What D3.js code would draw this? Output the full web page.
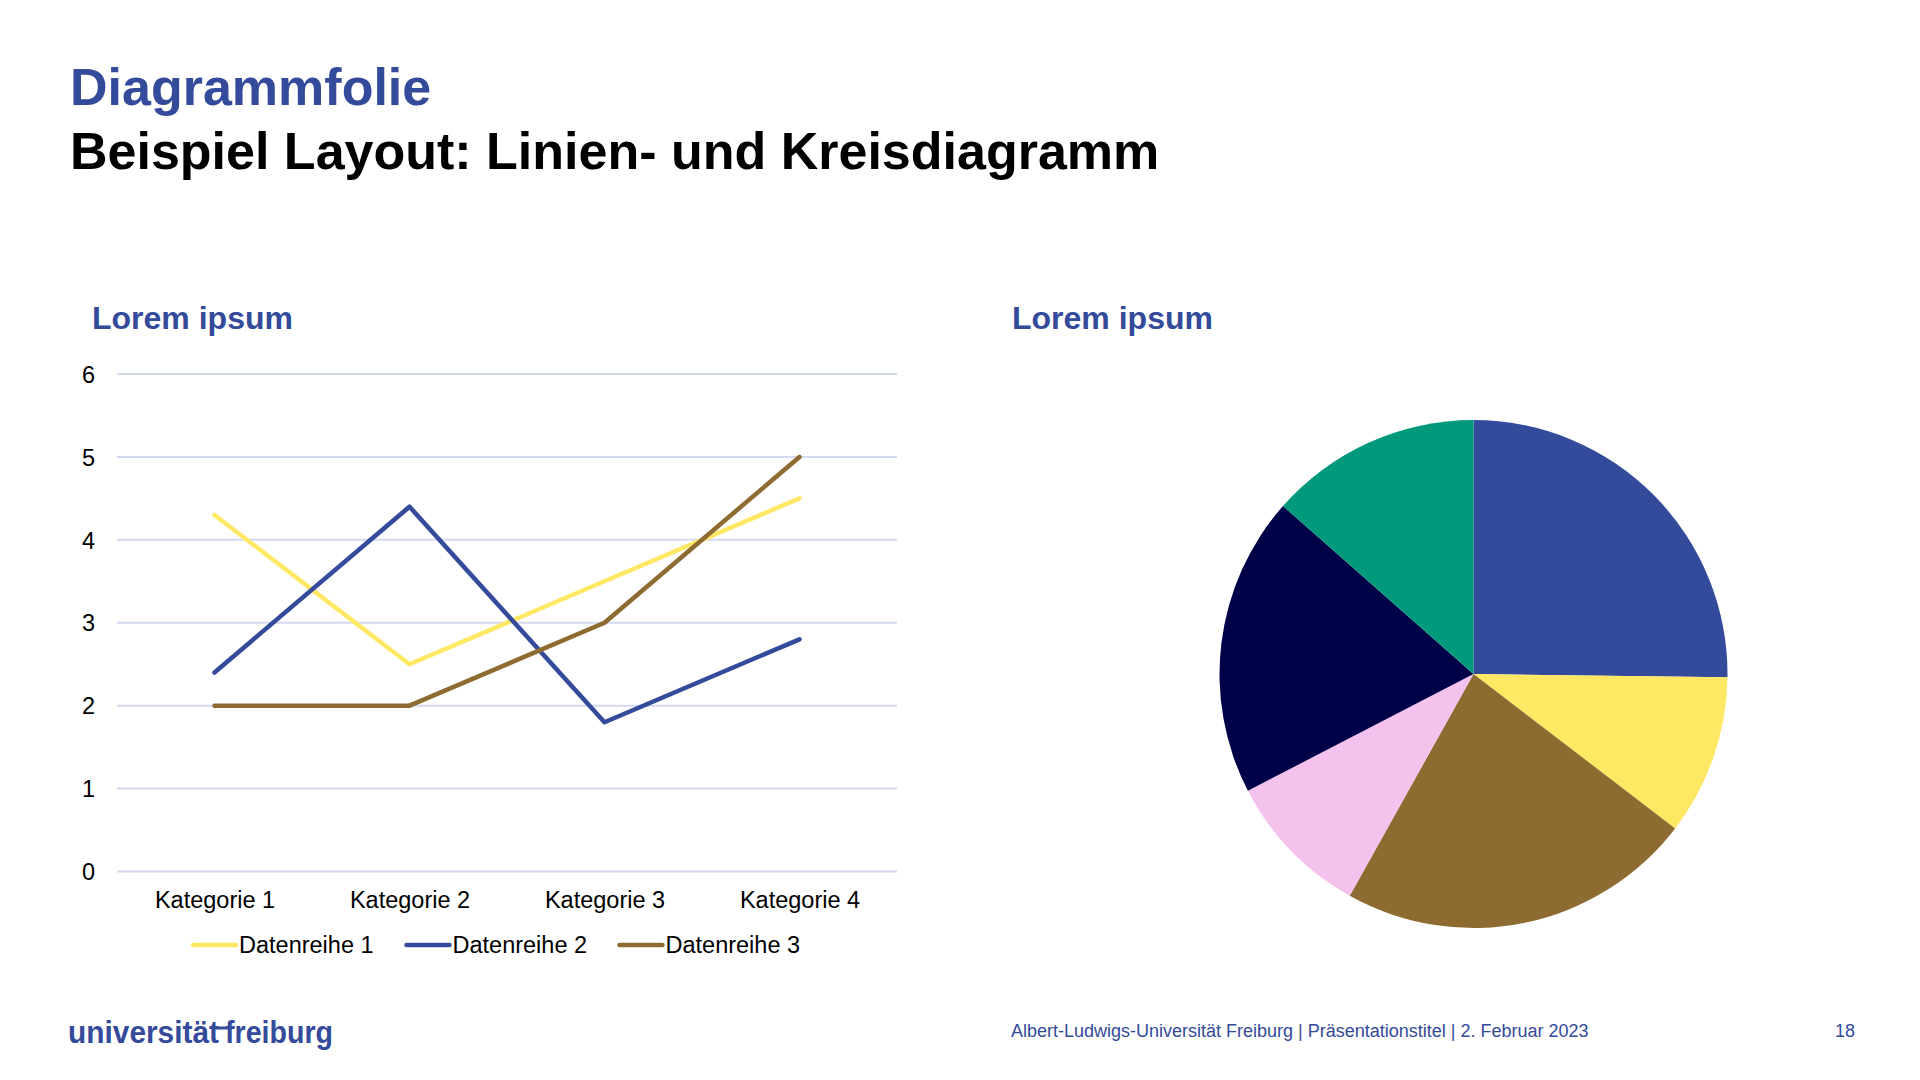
<!DOCTYPE html>
<html>
<head>
<meta charset="utf-8">
<script src="https://cdn.jsdelivr.net/npm/d3@7"></script>
<style>
  html, body { margin: 0; padding: 0; background: #ffffff; }
  svg { display: block; }
  text { font-family: "Liberation Sans", Arial, Helvetica, sans-serif; }
</style>
</head>
<body>
<svg id="chart" width="1920" height="1080"></svg>
<script>
// ---------------- data ----------------
const titleMain = "Diagrammfolie";
const titleSub = "Beispiel Layout: Linien- und Kreisdiagramm";
const chartTitleLeft = "Lorem ipsum";
const chartTitleRight = "Lorem ipsum";

const categories = ["Kategorie 1", "Kategorie 2", "Kategorie 3", "Kategorie 4"];
const seriesNames = ["Datenreihe 1", "Datenreihe 2", "Datenreihe 3"];
const series1 = [4.3, 2.5, 3.5, 4.5];
const series2 = [2.4, 4.4, 1.8, 2.8];
const series3 = [2, 2, 3, 5];
const yTicks = [0, 1, 2, 3, 4, 5, 6];

const pieLabels = ["Segment 1", "Segment 2", "Segment 3", "Segment 4", "Segment 5", "Segment 6"];
const pieValues = [25.2, 10.2, 22.7, 9.3, 19.1, 13.5];

const footerText = "Albert-Ludwigs-Universität Freiburg | Präsentationstitel | 2. Februar 2023";
const pageNumber = "18";

// ---------------- styles ----------------
const uniBlue = "#344A9A";
const lineColors = ["#FFE863", "#344A9A", "#8E6C31"];
const pieColors = ["#344B9B", "#FFE863", "#8E6B30", "#F4C2EC", "#000048", "#00997C"];
const gridColor = "#D3D9EF";

const svg = d3.select("#chart");

// ---------------- titles ----------------
svg.append("text").attr("x", 70).attr("y", 105)
  .attr("font-size", 52).attr("font-weight", "bold").attr("fill", uniBlue)
  .text(titleMain);
svg.append("text").attr("x", 70).attr("y", 169)
  .attr("font-size", 52).attr("font-weight", "bold").attr("fill", "#000")
  .text(titleSub);

svg.append("text").attr("x", 92).attr("y", 329)
  .attr("font-size", 32).attr("font-weight", "bold").attr("fill", uniBlue)
  .text(chartTitleLeft);
svg.append("text").attr("x", 1012).attr("y", 329)
  .attr("font-size", 32).attr("font-weight", "bold").attr("fill", uniBlue)
  .text(chartTitleRight);

// ---------------- line chart ----------------
const x = d3.scalePoint().domain(categories).range([117, 897]).padding(0.5);
const y = d3.scaleLinear().domain([0, 6]).range([871.5, 374]);

const gGrid = svg.append("g");
gGrid.selectAll("line").data(yTicks).join("line")
  .attr("x1", 117).attr("x2", 897)
  .attr("y1", d => y(d)).attr("y2", d => y(d))
  .attr("stroke", gridColor).attr("stroke-width", 2);

const yAxis = d3.axisLeft(y).tickValues(yTicks).tickFormat(d3.format("d")).tickSize(0).tickPadding(0);
const gy = svg.append("g").attr("transform", "translate(95,0)").call(yAxis);
gy.select(".domain").remove();
gy.selectAll("text").attr("font-size", 23.5).attr("fill", "#000")
  .attr("font-family", "Liberation Sans, Arial, sans-serif")
  .attr("dy", "0.35em");

const xAxis = d3.axisBottom(x).tickSize(0).tickPadding(0);
const gx = svg.append("g").attr("transform", "translate(0,908)").call(xAxis);
gx.select(".domain").remove();
gx.selectAll("text").attr("font-size", 23.5).attr("fill", "#000")
  .attr("font-family", "Liberation Sans, Arial, sans-serif")
  .attr("dy", 0);

const allSeries = [series1, series2, series3];
const line = d3.line().x((d, i) => x(categories[i])).y(d => y(d));
svg.append("g").selectAll("path").data(allSeries).join("path")
  .attr("d", d => line(d))
  .attr("fill", "none")
  .attr("stroke", (d, i) => lineColors[i])
  .attr("stroke-width", 4.5)
  .attr("stroke-linejoin", "round")
  .attr("stroke-linecap", "round");

// legend
const legendX = [193, 406.5, 619.5];
const leg = svg.append("g").selectAll("g").data(seriesNames).join("g")
  .attr("transform", (d, i) => `translate(${legendX[i]},0)`);
leg.append("line").attr("x1", 0).attr("x2", 43).attr("y1", 945).attr("y2", 945)
  .attr("stroke", (d, i) => lineColors[i]).attr("stroke-width", 4.5)
  .attr("stroke-linecap", "round");
leg.append("text").attr("x", 46).attr("y", 953)
  .attr("font-size", 23.5).attr("fill", "#000").text(d => d);

// ---------------- pie chart ----------------
const pie = d3.pie().sort(null).value(d => d)(pieValues);
const arc = d3.arc().innerRadius(0).outerRadius(254);
svg.append("g").attr("transform", "translate(1473.5,674)")
  .selectAll("path").data(pie).join("path")
  .attr("d", arc)
  .attr("fill", (d, i) => pieColors[i]);

// ---------------- footer ----------------
const logo = svg.append("g");
logo.append("text").attr("x", 68).attr("y", 1043)
  .attr("font-family", "Roboto, 'Open Sans', sans-serif").attr("font-weight", 600)
  .attr("font-size", 31).attr("fill", uniBlue)
  .attr("textLength", 151).attr("lengthAdjust", "spacingAndGlyphs")
  .text("universität");
logo.append("line").attr("x1", 214).attr("x2", 232).attr("y1", 1028).attr("y2", 1028)
  .attr("stroke", uniBlue).attr("stroke-width", 3);
logo.append("text").attr("x", 225).attr("y", 1043)
  .attr("font-family", "Roboto, 'Open Sans', sans-serif").attr("font-weight", 600)
  .attr("font-size", 31).attr("fill", uniBlue)
  .attr("textLength", 108).attr("lengthAdjust", "spacingAndGlyphs")
  .text("freiburg");

svg.append("text").attr("x", 1011).attr("y", 1036.5)
  .attr("font-size", 18).attr("fill", uniBlue).text(footerText);
svg.append("text").attr("x", 1855).attr("y", 1036.5).attr("text-anchor", "end")
  .attr("font-size", 18).attr("fill", uniBlue).text(pageNumber);
</script>
</body>
</html>
